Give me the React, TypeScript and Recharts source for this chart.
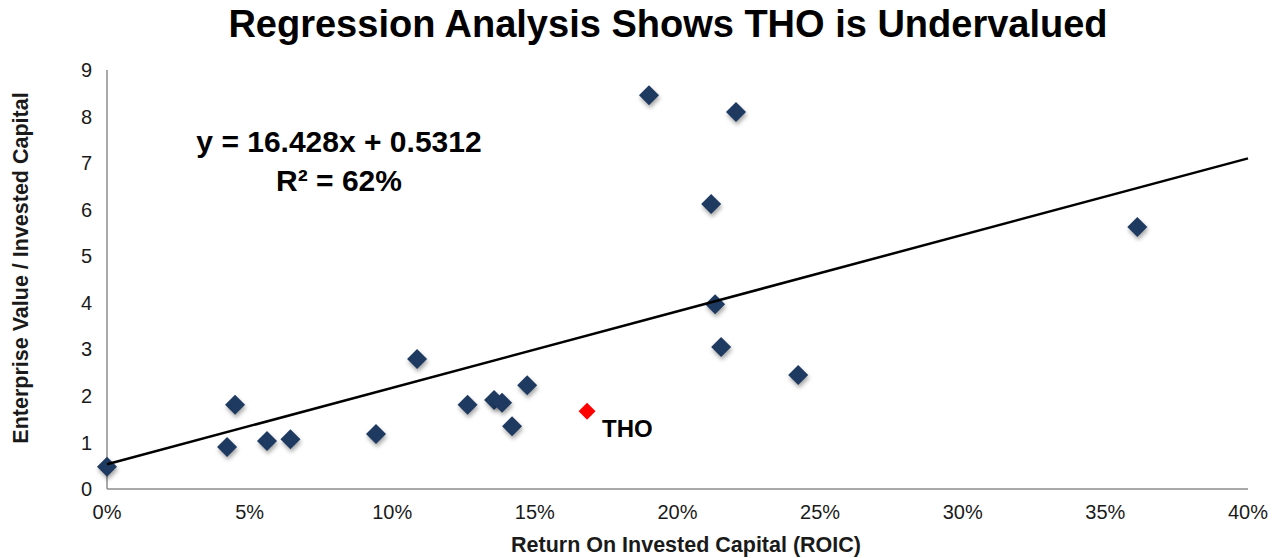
import React from "react";
import { ScatterChart, Scatter, XAxis, YAxis } from "recharts";

// ROIC (%) and EV / Invested Capital for peer companies
const PEER_ROIC = [0.0, 4.21, 4.49, 5.61, 6.43, 9.43, 10.87, 12.64, 13.57, 13.85, 14.2, 14.73, 19.0, 22.05, 21.18, 21.32, 21.53, 24.23, 36.12];
const PEER_EVIC = [0.48, 0.9, 1.81, 1.03, 1.07, 1.18, 2.79, 1.81, 1.91, 1.85, 1.35, 2.23, 8.46, 8.1, 6.12, 3.97, 3.05, 2.45, 5.63];

const THO_NAME = "THO";
const THO_ROIC = 16.83;
const THO_EVIC = 1.67;

// Trendline endpoints: y = 16.428x + 0.5312 at x = 0% and x = 40%
const TREND_ROIC = [0, 40];
const TREND_EVIC = [0.5312, 7.1024];

const X_TICKS = [0, 5, 10, 15, 20, 25, 30, 35, 40];
const Y_TICKS = [0, 1, 2, 3, 4, 5, 6, 7, 8, 9];

const TITLE = "Regression Analysis Shows THO is Undervalued";
const EQUATION = "y = 16.428x + 0.5312";
const R_SQUARED = "R² = 62%";
const X_TITLE = "Return On Invested Capital (ROIC)";
const Y_TITLE = "Enterprise Value / Invested Capital";

const peers = PEER_ROIC.map((r, i) => ({ roic: r, evic: PEER_EVIC[i] }));
const tho = [{ roic: THO_ROIC, evic: THO_EVIC, name: THO_NAME }];
const trend = TREND_ROIC.map((r, i) => ({ roic: r, evic: TREND_EVIC[i] }));

const FONT = "'Liberation Sans', Arial, Helvetica, sans-serif";

const diamond = (cx: number, cy: number, h: number) =>
  `${cx},${cy - h} ${cx + h},${cy} ${cx},${cy + h} ${cx - h},${cy}`;

const BlueDiamond = (props: any) => {
  const { cx, cy } = props;
  if (cx == null || cy == null) return <g />;
  return (
    <polygon
      points={diamond(cx, cy, 10)}
      fill="#1F3A60"
      style={{ filter: "drop-shadow(1px 3px 2px rgba(0,0,0,0.35))" }}
    />
  );
};

const RedDiamond = (props: any) => {
  const { cx, cy, payload } = props;
  if (cx == null || cy == null) return <g />;
  return (
    <g>
      <polygon points={diamond(cx, cy, 8.5)} fill="#FF0000" />
      <text
        x={cx + 15}
        y={cy + 26}
        fontFamily={FONT}
        fontWeight="bold"
        fontSize={24}
        fill="#000"
      >
        {payload?.name}
      </text>
    </g>
  );
};

const NoShape = () => <g />;

export default function App() {
  return (
    <div style={{ position: "absolute", left: 0, top: 0, width: 1281, height: 558, background: "#fff" }}>
      <ScatterChart
        width={1281}
        height={558}
        margin={{ top: 70, right: 33, left: 0, bottom: 29 }}
      >
        <XAxis
          type="number"
          dataKey="roic"
          domain={[0, 40]}
          ticks={X_TICKS}
          interval={0}
          tickFormatter={(v: number) => `${v}%`}
          height={40}
          tickLine={false}
          tickMargin={10}
          axisLine={{ stroke: "#8C8C8C", strokeWidth: 1.5 }}
          tick={{ fill: "#1a1a1a", fontSize: 20, fontFamily: FONT }}
        />
        <YAxis
          type="number"
          dataKey="evic"
          domain={[0, 9]}
          ticks={Y_TICKS}
          interval={0}
          width={107}
          tickLine={false}
          tickMargin={9}
          axisLine={{ stroke: "#8C8C8C", strokeWidth: 1.5 }}
          tick={{ fill: "#1a1a1a", fontSize: 20, fontFamily: FONT }}
        />
        <Scatter data={peers} shape={BlueDiamond} isAnimationActive={false} />
        <Scatter data={tho} shape={RedDiamond} isAnimationActive={false} />
        <Scatter
          data={trend}
          shape={NoShape}
          line={{ stroke: "#000", strokeWidth: 2.5 }}
          isAnimationActive={false}
        />
      </ScatterChart>
      <svg
        width={1281}
        height={558}
        style={{ position: "absolute", left: 0, top: 0, pointerEvents: "none" }}
      >
        <text x={668} y={37} textAnchor="middle" fontFamily={FONT} fontWeight="bold" fontSize={38} fill="#000">
          {TITLE}
        </text>
        <text x={339} y={152} textAnchor="middle" fontFamily={FONT} fontWeight="bold" fontSize={30} fill="#000">
          {EQUATION}
        </text>
        <text x={339} y={191} textAnchor="middle" fontFamily={FONT} fontWeight="bold" fontSize={30} fill="#000">
          {R_SQUARED}
        </text>
        <text x={686} y={552} textAnchor="middle" fontFamily={FONT} fontWeight="bold" fontSize={21.5} fill="#1a1a1a">
          {X_TITLE}
        </text>
        <text
          x={0}
          y={0}
          transform="translate(28,268) rotate(-90)"
          textAnchor="middle"
          fontFamily={FONT}
          fontWeight="bold"
          fontSize={21.5}
          fill="#1a1a1a"
        >
          {Y_TITLE}
        </text>
      </svg>
    </div>
  );
}
